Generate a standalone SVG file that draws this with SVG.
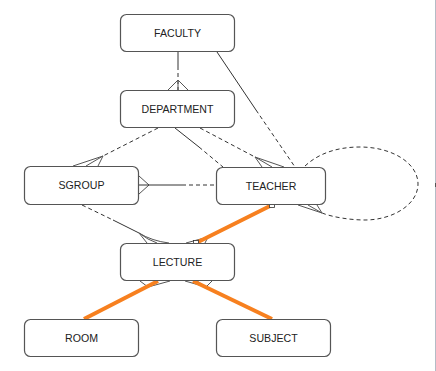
<svg xmlns="http://www.w3.org/2000/svg" width="436" height="371" viewBox="0 0 436 371">
<style>
.box{fill:#fff;stroke:#555;stroke-width:1.2}
.lbl{font-family:"Liberation Sans",Arial,sans-serif;font-size:10.6px;fill:#222;text-anchor:middle}
.s{stroke:#333;stroke-width:1;fill:none}
.d{stroke:#333;stroke-width:1;fill:none;stroke-dasharray:4,3}
.cf{stroke:#555;stroke-width:1;fill:none}
.o{stroke:#f7801f;stroke-width:4;fill:none;stroke-linecap:butt}
.h{fill:#fff;stroke:#333;stroke-width:0.8}
</style>
<rect width="436" height="371" fill="#fff"/>
<line x1="435.5" y1="0" x2="435.5" y2="371" stroke="#b4bcc6" stroke-width="1"/>
<line x1="435.5" y1="183" x2="435.5" y2="187" stroke="#555" stroke-width="1"/>
<g id="connectors">
  <!-- FACULTY - DEPARTMENT -->
  <line class="s" x1="178" y1="52" x2="178" y2="66"/>
  <line class="d" x1="178" y1="66" x2="178" y2="90"/>
  <path class="cf" d="M168,90 L178,80 L188,90 M178,80 L178,90"/>
  <!-- FACULTY - TEACHER -->
  <line class="s" x1="217" y1="52" x2="256" y2="110"/>
  <line class="d" x1="256" y1="110" x2="295" y2="167"/>
  <!-- DEPARTMENT - SGROUP -->
  <line class="d" x1="158" y1="128" x2="103" y2="156"/>
  <path class="cf" d="M73,166 L103,156 M86,166 L103,156 M98,166 L103,156"/>
  <!-- DEPARTMENT - TEACHER (1) -->
  <line class="s" x1="175" y1="128" x2="199" y2="147"/>
  <line class="d" x1="199" y1="147" x2="223" y2="167"/>
  <!-- DEPARTMENT - TEACHER (2) -->
  <line class="d" x1="200" y1="128" x2="255" y2="157"/>
  <path class="cf" d="M255,157 L262,167 M255,157 L272,167 M255,157 L284,167"/>
  <!-- SGROUP - TEACHER -->
  <path class="cf" d="M139,176 L149,185 L139,194"/>
  <line class="s" x1="139" y1="185" x2="182" y2="185"/>
  <line class="d" x1="182" y1="185" x2="216" y2="185"/>
  <!-- SGROUP - LECTURE -->
  <line class="d" x1="82" y1="205" x2="113" y2="220"/>
  <line class="s" x1="113" y1="220" x2="139" y2="233"/>
  <path class="cf" d="M139,233 Q143,238 147,243 M139,233 Q148,240 157,243 M139,233 Q152,241 169,243"/>
  <!-- TEACHER self relationship -->
  <path class="d" d="M305,166 C320,152 340,147 360,147 C392,147 418,163 418,184 C418,205 392,220 365,220 C350,220 332,217 322,213"/>
  <path class="cf" d="M298,205 L322,213 M308,205 L322,213 M317,205 L322,213"/>
  <!-- TEACHER - LECTURE -->
  <path class="cf" d="M186,243 L208,237 M196,243 L208,237 M205,243 L208,237"/>
  <line class="o" x1="272" y1="205" x2="196" y2="243"/>
  <rect class="h" x="269.5" y="202.5" width="5" height="5"/>
  <rect class="h" x="193.5" y="240.5" width="5" height="5"/>
  <!-- LECTURE - ROOM -->
  <path class="cf" d="M140,281 L148,287 M156,281 L148,287 M170,281 L148,287"/>
  <line class="o" x1="158" y1="281" x2="84" y2="319"/>
  <!-- LECTURE - SUBJECT -->
  <path class="cf" d="M185,281 L206,287 M197,281 L206,287 M212,281 L206,287"/>
  <line class="o" x1="193" y1="281" x2="272" y2="319"/>
</g>
<g id="FACULTY"><rect class="box" x="120.5" y="14.5" width="114" height="37" rx="6"/><text class="lbl" x="177.5" y="37">FACULTY</text></g>
<g id="DEPARTMENT"><rect class="box" x="120.5" y="90.5" width="114" height="37" rx="6"/><text class="lbl" x="177.5" y="113">DEPARTMENT</text></g>
<g id="SGROUP"><rect class="box" x="24.5" y="166.5" width="114" height="38" rx="6"/><text class="lbl" x="81.5" y="189">SGROUP</text></g>
<g id="TEACHER"><rect class="box" x="216.5" y="167.5" width="109" height="37" rx="6"/><text class="lbl" x="271" y="190">TEACHER</text></g>
<g id="LECTURE"><rect class="box" x="120.5" y="243.5" width="114" height="37" rx="6"/><text class="lbl" x="177.5" y="266">LECTURE</text></g>
<g id="ROOM"><rect class="box" x="24.5" y="319.5" width="114" height="37" rx="6"/><text class="lbl" x="81.5" y="342">ROOM</text></g>
<g id="SUBJECT"><rect class="box" x="216.5" y="319.5" width="114" height="37" rx="6"/><text class="lbl" x="273.5" y="342">SUBJECT</text></g>
</svg>
